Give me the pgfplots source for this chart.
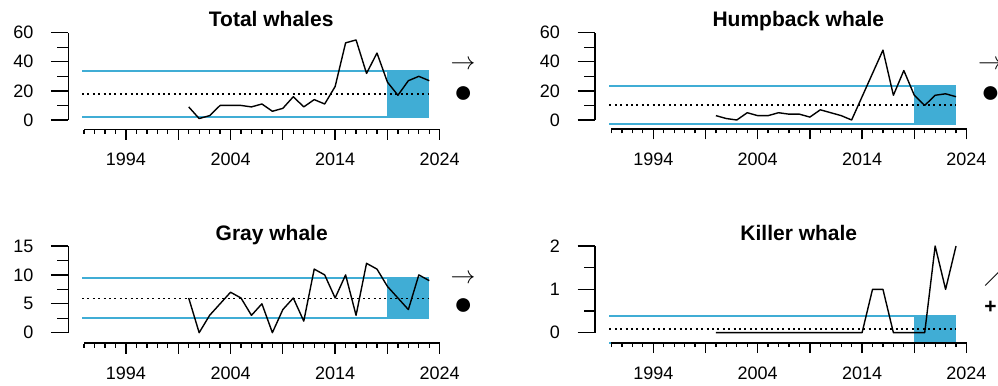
\documentclass[border=0pt]{standalone}
\usepackage{fontspec}
\setmainfont{Liberation Sans}
\usepackage{pgfplots}
\usepackage{pgfplotstable}
\pgfplotsset{compat=1.18}

\definecolor{bandblue}{RGB}{64,173,213}

\newcommand{\ticksize}{\fontsize{18bp}{18bp}\selectfont}
\newcommand{\titlesize}{\fontsize{21bp}{21bp}\selectfont\bfseries}
\newcommand{\arrowsize}{\fontsize{32bp}{32bp}\selectfont}
\newcommand{\dotsize}{\fontsize{32bp}{32bp}\selectfont}

% Annual whale counts
\pgfplotstableread{
year total humpback gray killer
2000  9  3  6 0
2001  1  1  0 0
2002  3  0  3 0
2003 10  5  5 0
2004 10  3  7 0
2005 10  3  6 0
2006  9  5  3 0
2007 11  4  5 0
2008  6  4  0 0
2009  8  2  4 0
2010 16  7  6 0
2011  9  5  2 0
2012 14  3 11 0
2013 11  0 10 0
2014 23 16  6 0
2015 53 32 10 1
2016 55 48  3 1
2017 32 17 12 0
2018 46 34 11 0
2019 26 17  8 0
2020 17 10  6 0
2021 27 17  4 2
2022 30 18 10 1
2023 27 16  9 2
}\whales

\pgfplotsset{
  panel/.style={scale only axis, anchor=south west, xmin=1990, xmax=2024,
    ymin=0, hide axis, clip=false},
  band line/.style={draw=bandblue, line width=1.8bp, forget plot},
  band fill/.style={fill=bandblue, draw=none, forget plot},
  mean line/.style={black, line width=1.5bp, dash pattern=on 2bp off 3.4bp, forget plot},
  series/.style={black, line width=1.4bp, no marks, line join=round},
  raxis common/.style={scale only axis, anchor=south west,
    every tick/.style={black, line width=1.3bp},
    tick label style={font=\ticksize},
    /pgf/number format/assume math mode=true},
  yaxis R/.style={raxis common, width=10bp, xmin=0, xmax=1,
    separate axis lines,
    axis line style={-, draw=black, line width=1.3bp},
    axis x line=none, axis y line*=left, ytick pos=left,
    tick align=outside,
    major tick length=17.5bp, minor tick length=11bp,
    yticklabel style={anchor=east, xshift=-14bp}},
  % time scale: a flat box axis, ticks at the bottom only
  xaxis R/.style={raxis common, height=0.5bp, ymin=0, ymax=1,
    axis line style={-, draw=black, line width=1.1bp},
    xmin=1990, xmax=2024, ytick=\empty, xtick pos=bottom,
    tick align=outside,
    xtick={1994,1999,2004,2009,2014,2019,2024},
    xticklabels={1994,,2004,,2014,,2024},
    minor xtick={1990,1991,...,2024},
    major tick length=10bp, minor tick length=4bp,
    xticklabel style={anchor=north, yshift=-10bp}},
}

\begin{document}
\begin{tikzpicture}[x=1bp, y=1bp]
\useasboundingbox (0,0) rectangle (998,385);

% ---------------- Total whales ----------------
\begin{axis}[panel, at={(84.1bp,265bp)}, width=355.64bp, height=87.33bp, ymax=60]
  \addplot[band line] coordinates {(1989.8,33.9) (2023,33.9)};
  \addplot[band line] coordinates {(1989.8,2.3) (2023,2.3)};
  \addplot[band fill] coordinates {(2019,2.3) (2023,2.3) (2023,33.9) (2019,33.9)} -- cycle;
  \addplot[mean line] coordinates {(1989.8,17.9) (2023,17.9)};
  \addplot[series] table[x=year, y=total] {\whales};
\end{axis}
\begin{axis}[yaxis R, at={(68.3bp,265bp)}, height=87.33bp, ymin=0, ymax=60,
  ytick={0,20,40,60}, minor ytick={10,30,50}]
\end{axis}
\begin{axis}[xaxis R, at={(84.1bp,255.3bp)}, width=355.64bp]
\end{axis}
\node[anchor=base, font=\titlesize] at (271.2,359) {Total whales};
\node[font=\arrowsize, inner sep=0pt] at (463,320) {$\rightarrow$};
\node[font=\dotsize, inner sep=0pt] at (463.3,290.7) {●};

% ---------------- Humpback whale ----------------
\begin{axis}[panel, at={(611.5bp,265bp)}, width=354.96bp, height=87.33bp, ymax=60]
  \addplot[band line] coordinates {(1989.8,23.4) (2023,23.4)};
  \addplot[band line] coordinates {(1989.8,-2.5) (2023,-2.5)};
  \addplot[band fill] coordinates {(2019,-2.5) (2023,-2.5) (2023,23.4) (2019,23.4)} -- cycle;
  \addplot[mean line] coordinates {(1989.8,10.3) (2023,10.3)};
  \addplot[series] table[x=year, y=humpback] {\whales};
\end{axis}
\begin{axis}[yaxis R, at={(595bp,265bp)}, height=87.33bp, ymin=0, ymax=60,
  ytick={0,20,40,60}, minor ytick={10,30,50}]
\end{axis}
\begin{axis}[xaxis R, at={(611.5bp,255.5bp)}, width=354.96bp]
\end{axis}
\node[anchor=base, font=\titlesize] at (798.3,359) {Humpback whale};
\node[font=\arrowsize, inner sep=0pt] at (990.5,320) {$\rightarrow$};
\node[font=\dotsize, inner sep=0pt] at (990.6,290.7) {●};

% ---------------- Gray whale ----------------
\begin{axis}[panel, at={(84.1bp,52.33bp)}, width=355.64bp, height=86.67bp, ymax=15]
  \addplot[band line] coordinates {(1989.8,9.4) (2023,9.4)};
  \addplot[band line] coordinates {(1989.8,2.5) (2023,2.5)};
  \addplot[band fill] coordinates {(2019,2.5) (2023,2.5) (2023,9.4) (2019,9.4)} -- cycle;
  \addplot[mean line] coordinates {(1989.8,5.94) (2023,5.94)};
  \addplot[series] table[x=year, y=gray] {\whales};
\end{axis}
\begin{axis}[yaxis R, at={(68.3bp,52.33bp)}, height=86.67bp, ymin=0, ymax=15,
  ytick={0,5,10,15}, minor ytick={2.5,7.5,12.5}]
\end{axis}
\begin{axis}[xaxis R, at={(84.1bp,41.5bp)}, width=355.64bp]
\end{axis}
\node[anchor=base, font=\titlesize] at (271.7,145) {Gray whale};
\node[font=\arrowsize, inner sep=0pt] at (463,106) {$\rightarrow$};
\node[font=\dotsize, inner sep=0pt] at (463.3,78.3) {●};

% ---------------- Killer whale ----------------
\begin{axis}[panel, at={(611.5bp,52.33bp)}, width=354.96bp, height=86.67bp, ymax=2]
  \addplot[band line] coordinates {(1989.8,0.385) (2023,0.385)};
  \addplot[band line] coordinates {(1989.8,-0.23) (2023,-0.23)};
  \addplot[band fill] coordinates {(2019,-0.23) (2023,-0.23) (2023,0.385) (2019,0.385)} -- cycle;
  \addplot[mean line] coordinates {(1989.8,0.085) (2023,0.085)};
  \addplot[series] table[x=year, y=killer] {\whales};
\end{axis}
\begin{axis}[yaxis R, at={(595bp,52.33bp)}, height=86.67bp, ymin=0, ymax=2,
  ytick={0,1,2}, minor ytick={0.5,1.5}]
\end{axis}
\begin{axis}[xaxis R, at={(611.5bp,41.8bp)}, width=354.96bp]
\end{axis}
\node[anchor=base, font=\titlesize] at (798.8,145) {Killer whale};
\node[font=\arrowsize, inner sep=0pt] at (996,110) {$\nearrow$};
\node[font=\titlesize, inner sep=0pt] at (990.5,77.7) {+};
\end{tikzpicture}
\end{document}
